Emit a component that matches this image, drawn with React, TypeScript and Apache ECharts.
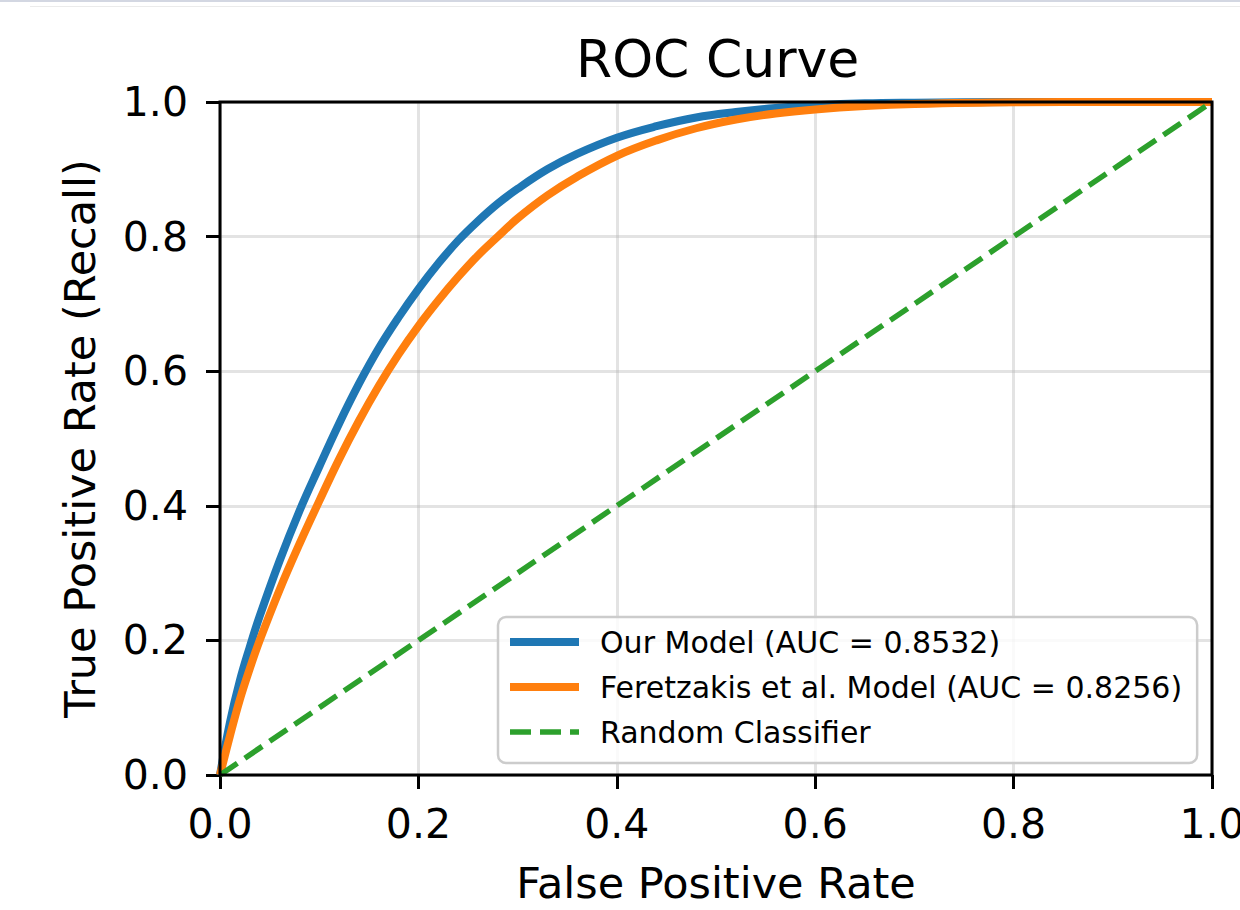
import React, { useEffect, useRef } from "react";
import * as echarts from "echarts";

const fprOur = [0, 0.01, 0.02, 0.03, 0.04, 0.06, 0.08, 0.1, 0.12, 0.14, 0.16, 0.18, 0.2, 0.22, 0.24, 0.26, 0.28, 0.3, 0.33, 0.36, 0.4, 0.44, 0.48, 0.52, 0.56, 0.6, 0.65, 0.7, 0.8, 0.9, 1.0];
const tprOur = [0, 0.078, 0.14, 0.19, 0.236, 0.318, 0.392, 0.458, 0.522, 0.581, 0.634, 0.68, 0.722, 0.76, 0.794, 0.823, 0.849, 0.871, 0.9, 0.923, 0.947, 0.964, 0.977, 0.985, 0.991, 0.995, 0.998, 0.999, 1.0, 1.0, 1.0];
const fprFer = [0, 0.01, 0.02, 0.03, 0.04, 0.06, 0.08, 0.1, 0.12, 0.14, 0.16, 0.18, 0.2, 0.22, 0.24, 0.26, 0.28, 0.3, 0.33, 0.36, 0.4, 0.44, 0.48, 0.52, 0.56, 0.6, 0.65, 0.7, 0.8, 0.9, 1.0];
const tprFer = [0, 0.058, 0.112, 0.158, 0.2, 0.275, 0.343, 0.407, 0.469, 0.526, 0.578, 0.625, 0.667, 0.705, 0.74, 0.772, 0.8, 0.827, 0.861, 0.889, 0.92, 0.943, 0.961, 0.974, 0.983, 0.989, 0.994, 0.997, 0.9996, 1.0, 1.0];
const fprRand = [0, 1];
const tprRand = [0, 1];

const nameOur = "Our Model (AUC = 0.8532)";
const nameFer = "Feretzakis et al. Model (AUC = 0.8256)";
const nameRand = "Random Classifier";

const FONT = "'DejaVu Sans', sans-serif";

export default function App() {
  const ref = useRef<HTMLDivElement>(null);
  useEffect(() => {
    if (!ref.current) return;
    const chart = echarts.init(ref.current, undefined, { renderer: "svg" });
    const zip = (xs: number[], ys: number[]) => xs.map((x, i) => [x, ys[i]]);
    chart.setOption({
      animation: false,
      backgroundColor: "#ffffff",
      textStyle: { fontFamily: FONT, color: "#000" },
      title: {
        text: "ROC Curve",
        left: 571,
        top: 28,
        textStyle: { fontFamily: FONT, fontSize: 52, fontWeight: "normal", color: "#000" },
      },
      graphic: [
        { type: "rect", shape: { x: 0, y: 0, width: 1240, height: 2 }, style: { fill: "#d3d7e2" } },
        { type: "rect", shape: { x: 30, y: 6, width: 1210, height: 1 }, style: { fill: "#ebebeb" } },
      ],
      grid: {
        left: 220,
        right: 28,
        top: 102,
        bottom: 135,
        outerBoundsMode: "none",
        containLabel: false,
        show: true,
        borderColor: "#000",
        borderWidth: 3,
        backgroundColor: "transparent",
        z: 3,
      },
      legend: {
        orient: "vertical",
        left: 498,
        top: 617,
        padding: [10, 15, 16, 8],
        itemGap: 15,
        itemWidth: 69,
        itemHeight: 14,
        selectedMode: false,
        backgroundColor: "rgba(255,255,255,0.8)",
        borderColor: "#cccccc",
        borderWidth: 2.5,
        borderRadius: 8,
        itemStyle: { opacity: 0 },
        textStyle: { fontFamily: FONT, fontSize: 30, color: "#000", padding: [0, 0, 0, 16] },
        data: [
          { name: nameOur, lineStyle: { color: "#1f77b4", width: 8 } },
          { name: nameFer, lineStyle: { color: "#ff7f0e", width: 8 } },
          { name: nameRand, lineStyle: { color: "#2ca02c", width: 5.5, type: [21, 9] } },
        ],
      },
      xAxis: {
        type: "value",
        min: 0,
        max: 1,
        interval: 0.2,
        name: "False Positive Rate",
        nameLocation: "middle",
        nameGap: 86,
        nameTextStyle: { fontFamily: FONT, fontSize: 43, color: "#000" },
        axisLine: { show: false },
        axisTick: { show: true, length: 14, lineStyle: { color: "#000", width: 3 } },
        axisLabel: {
          fontFamily: FONT,
          fontSize: 41,
          color: "#000",
          margin: 28,
          showMaxLabel: true,
          showMinLabel: true,
          formatter: (v: number) => v.toFixed(1),
        },
        splitLine: { show: true, lineStyle: { color: "rgba(176,176,176,0.35)", width: 3 } },
      },
      yAxis: {
        type: "value",
        min: 0,
        max: 1,
        interval: 0.2,
        name: "True Positive Rate (Recall)",
        nameLocation: "middle",
        nameRotate: 90,
        nameGap: 119,
        nameTextStyle: { fontFamily: FONT, fontSize: 43, color: "#000" },
        axisLine: { show: false },
        axisTick: { show: true, length: 14, lineStyle: { color: "#000", width: 3 } },
        axisLabel: {
          fontFamily: FONT,
          fontSize: 41,
          color: "#000",
          margin: 32,
          showMaxLabel: true,
          showMinLabel: true,
          formatter: (v: number) => v.toFixed(1),
        },
        splitLine: { show: true, lineStyle: { color: "rgba(176,176,176,0.35)", width: 3 } },
      },
      series: [
        {
          name: nameOur,
          type: "line",
          data: zip(fprOur, tprOur),
          symbol: "none",
          smooth: 0.4,
          lineStyle: { color: "#1f77b4", width: 8 },
          itemStyle: { color: "#1f77b4" },
          z: 2,
        },
        {
          name: nameFer,
          type: "line",
          data: zip(fprFer, tprFer),
          symbol: "none",
          smooth: 0.4,
          lineStyle: { color: "#ff7f0e", width: 8 },
          itemStyle: { color: "#ff7f0e" },
          z: 2,
        },
        {
          name: nameRand,
          type: "line",
          data: zip(fprRand, tprRand),
          symbol: "none",
          lineStyle: { color: "#2ca02c", width: 5.5, type: [21, 9] },
          itemStyle: { color: "#2ca02c" },
          z: 2,
        },
      ],
    });
    return () => chart.dispose();
  }, []);
  return (
    <div
      ref={ref}
      style={{ position: "fixed", left: 0, top: 0, width: 1240, height: 910, background: "#fff" }}
    />
  );
}
